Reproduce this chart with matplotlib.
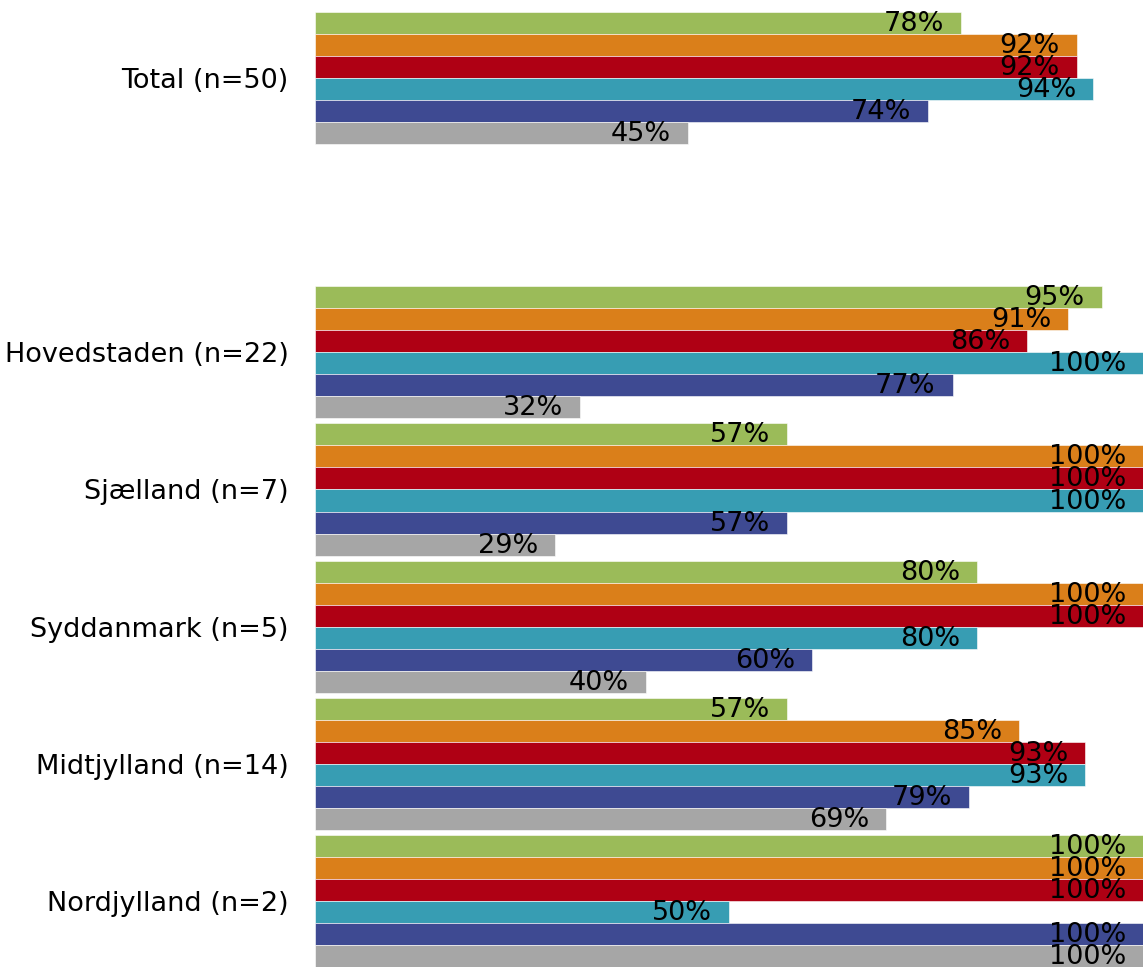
import numpy as np
import matplotlib
matplotlib.use('Agg')
import matplotlib.pyplot as plt

# kategorier (tom plads mellem Total og regionerne)
categories = ["Total (n=50)", "", "Hovedstaden (n=22)", "Sjælland (n=7)",
              "Syddanmark (n=5)", "Midtjylland (n=14)", "Nordjylland (n=2)"]

# andele i procent, en liste pr. serie (None = ingen søjle)
serie_1 = [78, None, 95, 57, 80, 57, 100]
serie_2 = [92, None, 91, 100, 100, 85, 100]
serie_3 = [92, None, 86, 100, 100, 93, 100]
serie_4 = [94, None, 100, 100, 80, 93, 50]
serie_5 = [74, None, 77, 57, 60, 79, 100]
serie_6 = [45, None, 32, 29, 40, 69, 100]

series = [serie_1, serie_2, serie_3, serie_4, serie_5, serie_6]
colors = ["#9BBB59", "#DA7F1A", "#AF0014", "#379DB3", "#3E4A92", "#A6A6A6"]

plt.rcParams['font.family'] = ['DejaVu Sans']

fig = plt.figure(figsize=(11.43, 9.67), dpi=100)
ax = fig.add_axes([315 / 1143, 0.0, 1 - 315 / 1143, 1 - 12 / 967])

bar_h = 22 / 137
y = np.arange(len(categories))

for j, (vals, col) in enumerate(zip(series, colors)):
    offset = (j - 2.5) * bar_h
    for i, v in enumerate(vals):
        if v is None:
            continue
        ax.barh(y[i] + offset, v, height=bar_h, color=col,
                edgecolor='white', linewidth=0.4)
        # procenttal højrestillet inde i søjlen
        ax.annotate(f"{v}%", xy=(v, y[i] + offset), xytext=(-17, -1),
                    textcoords='offset pixels', ha='right', va='center',
                    fontsize=19.5, color='black')

ax.set_xlim(0, 100)
ax.set_ylim(len(categories) - 1 + 3 * bar_h, -3 * bar_h)
ax.set_yticks(y)
ax.set_yticklabels(categories, fontsize=19.5)
ax.tick_params(axis='y', length=0, pad=19)
ax.set_xticks([])
for side in ax.spines.values():
    side.set_visible(False)

fig.savefig("out.png", dpi=100)
